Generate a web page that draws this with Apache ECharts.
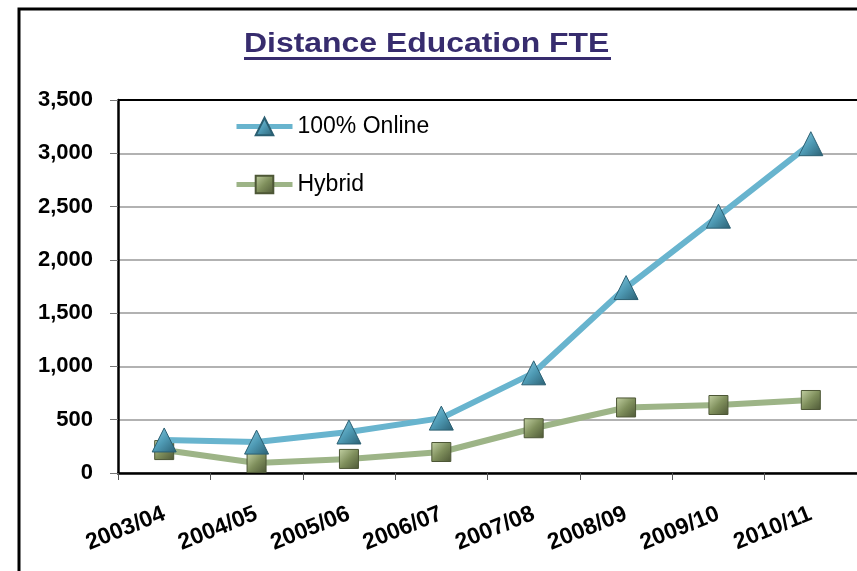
<!DOCTYPE html>
<html>
<head>
<meta charset="utf-8">
<script src="https://cdn.jsdelivr.net/npm/echarts@6/dist/echarts.min.js"></script>
<style>
html,body{margin:0;padding:0;background:#fff;}
#c{width:857px;height:571px;}
</style>
</head>
<body>
<div id="c"></div>
<script>
const titleText = 'Distance Education FTE';
const categories = ['2003/04','2004/05','2005/06','2006/07','2007/08','2008/09','2009/10','2010/11'];
const onlineName = '100% Online';
const onlineValues = [310, 290, 385, 515, 940, 1740, 2410, 3090];
const hybridName = 'Hybrid';
const hybridValues = [215, 94, 132, 197, 420, 615, 638, 685];

const chart = echarts.init(document.getElementById('c'), null, {renderer:'canvas'});
const font = 'Liberation Sans, Arial, sans-serif';
const triFill = new echarts.graphic.LinearGradient(0,0,1,1,[
  {offset:0,color:'#8fd0e6'},{offset:0.5,color:'#4f9bb5'},{offset:1,color:'#2b5f72'}]);
const sqFill = new echarts.graphic.LinearGradient(0,0,1,1,[
  {offset:0,color:'#c4d2a4'},{offset:0.5,color:'#7f8f5c'},{offset:1,color:'#4d5736'}]);

chart.setOption({
  animation:false,
  graphic:[
    {type:'text', x:244, y:30, scaleX:1.14, style:{text:titleText, font:'bold 28px Liberation Sans, Arial, sans-serif',
      fill:'#372c6e', verticalAlign:'top'}},
    {type:'line', shape:{x1:244,y1:58.5,x2:611,y2:58.5}, style:{stroke:'#372c6e', lineWidth:3}},
    {type:'rect', shape:{x:19,y:9,width:900,height:620}, style:{fill:'none', stroke:'#000', lineWidth:3}},
    {type:'line', shape:{x1:118,y1:100,x2:861,y2:100}, style:{stroke:'#000', lineWidth:2}, z:10}
  ],
  legend:{
    orient:'vertical', left:229, top:110, itemWidth:56, itemHeight:22, itemGap:35,
    textStyle:{fontFamily:font, fontSize:23, color:'#000'},
    lineStyle:{width:5},
    data:[onlineName, hybridName]
  },
  grid:{left:118, top:100, width:743, height:373},
  xAxis:{
    type:'category', data:categories, boundaryGap:true,
    axisLine:{lineStyle:{color:'#000', width:2.5}},
    axisTick:{show:true, length:7, lineStyle:{color:'#555', width:1}},
    axisLabel:{rotate:22, margin:40, fontFamily:font, fontSize:23, fontWeight:'bold', color:'#000'}
  },
  yAxis:{
    type:'value', min:0, max:3500, interval:500,
    axisLine:{show:true, lineStyle:{color:'#000', width:2.5}},
    axisTick:{show:true, length:8, lineStyle:{color:'#777'}},
    splitLine:{lineStyle:{color:'#999', width:1.5}},
    axisLabel:{margin:25, fontFamily:font, fontSize:22, fontWeight:'bold', color:'#000',
      formatter:v=>v.toLocaleString('en-US')}
  },
  series:[
    {name:onlineName, type:'line', data:onlineValues, symbol:'triangle', symbolSize:[24,24],
     lineStyle:{color:'#68b4ce', width:6}, itemStyle:{color:triFill, borderColor:'#2b5f72', borderWidth:1}, z:3},
    {name:hybridName, type:'line', data:hybridValues, symbol:'rect', symbolSize:[19,19],
     lineStyle:{color:'#9db487', width:6}, itemStyle:{color:sqFill, borderColor:'#4d5736', borderWidth:1}, z:2}
  ]
});
</script>
</body>
</html>
